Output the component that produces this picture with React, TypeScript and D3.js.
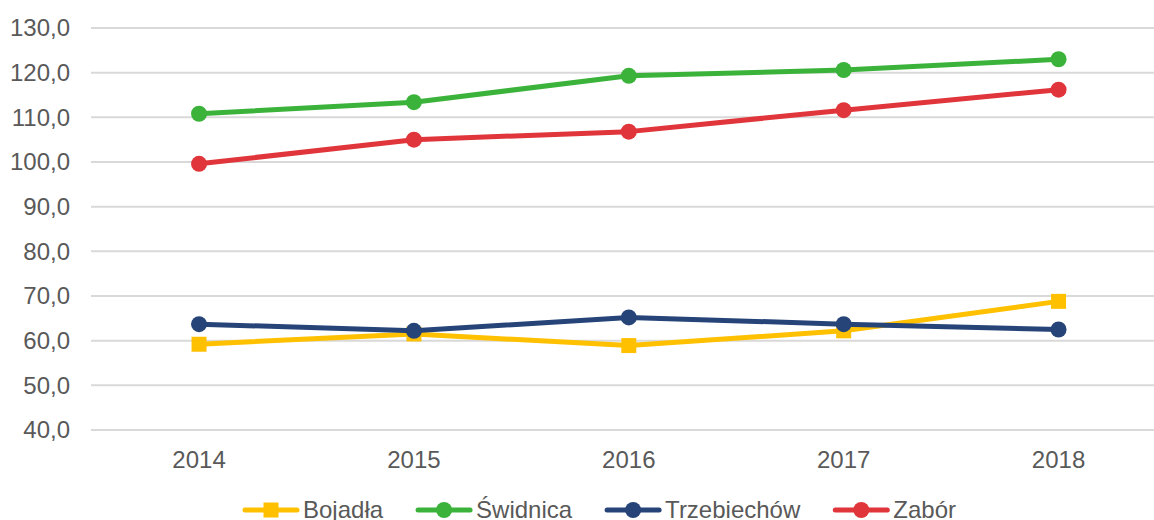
import * as d3 from "d3";
import React, { useEffect, useRef } from "react";

const years = ["2014", "2015", "2016", "2017", "2018"];
const bojadla = [59.2, 61.5, 58.9, 62.2, 68.8];
const swidnica = [110.8, 113.4, 119.3, 120.6, 123.0];
const trzebiechow = [63.7, 62.2, 65.2, 63.7, 62.5];
const zabor = [99.6, 105.0, 106.8, 111.6, 116.2];
const yTicks = [40, 50, 60, 70, 80, 90, 100, 110, 120, 130];

const series = [
  { name: "Bojadła", values: bojadla, color: "#FFC000", marker: "square" },
  { name: "Świdnica", values: swidnica, color: "#3BB33B", marker: "circle" },
  { name: "Trzebiechów", values: trzebiechow, color: "#264478", marker: "circle" },
  { name: "Zabór", values: zabor, color: "#E0353A", marker: "circle" },
];

const WIDTH = 1154;
const HEIGHT = 520;
const FONT = "'Liberation Sans', Arial, sans-serif";
const FS = 24;

function LineChart() {
  const svgRef = useRef<SVGSVGElement>(null);

  useEffect(() => {
    const svg = d3.select(svgRef.current);
    svg.selectAll("*").remove();

    const x = d3.scaleBand().domain(years).range([91.6, 1166]);
    const y = d3.scaleLinear().domain([40, 130]).range([430, 28]);
    const cx = (d: string) => (x(d) as number) + x.bandwidth() / 2;

    // gridlines
    svg
      .append("g")
      .selectAll("line")
      .data(yTicks)
      .join("line")
      .attr("x1", 91)
      .attr("x2", 1166)
      .attr("y1", (d) => y(d))
      .attr("y2", (d) => y(d))
      .attr("stroke", "#D9D9D9")
      .attr("stroke-width", 2);

    // y labels
    svg
      .append("g")
      .selectAll("text")
      .data(yTicks)
      .join("text")
      .attr("x", 70)
      .attr("y", (d) => y(d))
      .attr("dy", "0.35em")
      .attr("text-anchor", "end")
      .attr("font-family", FONT)
      .attr("font-size", FS)
      .attr("fill", "#595959")
      .text((d) => d.toFixed(1).replace(".", ","));

    // x labels
    svg
      .append("g")
      .selectAll("text")
      .data(years)
      .join("text")
      .attr("x", cx)
      .attr("y", 460)
      .attr("dy", "0.35em")
      .attr("text-anchor", "middle")
      .attr("font-family", FONT)
      .attr("font-size", FS)
      .attr("fill", "#595959")
      .text((d) => d);

    const line = d3
      .line<number>()
      .x((_, i) => cx(years[i]))
      .y((d) => y(d));

    series.forEach((s) => {
      const g = svg.append("g");
      g.append("path")
        .attr("d", line(s.values))
        .attr("fill", "none")
        .attr("stroke", s.color)
        .attr("stroke-width", 5)
        .attr("stroke-linecap", "round")
        .attr("stroke-linejoin", "round");
      if (s.marker === "square") {
        g.selectAll("rect")
          .data(s.values)
          .join("rect")
          .attr("x", (_, i) => cx(years[i]) - 7.5)
          .attr("y", (d) => y(d) - 7.5)
          .attr("width", 15)
          .attr("height", 15)
          .attr("fill", s.color);
      } else {
        g.selectAll("circle")
          .data(s.values)
          .join("circle")
          .attr("cx", (_, i) => cx(years[i]))
          .attr("cy", (d) => y(d))
          .attr("r", 8)
          .attr("fill", s.color);
      }
    });

    // legend
    const legend = svg.append("g");
    let lx = 243;
    const ly = 510;
    series.forEach((s) => {
      const item = legend.append("g");
      item
        .append("line")
        .attr("x1", lx + 2)
        .attr("x2", lx + 54)
        .attr("y1", ly)
        .attr("y2", ly)
        .attr("stroke", s.color)
        .attr("stroke-width", 5)
        .attr("stroke-linecap", "round");
      if (s.marker === "square") {
        item
          .append("rect")
          .attr("x", lx + 28 - 7.5)
          .attr("y", ly - 7.5)
          .attr("width", 15)
          .attr("height", 15)
          .attr("fill", s.color);
      } else {
        item
          .append("circle")
          .attr("cx", lx + 28)
          .attr("cy", ly)
          .attr("r", 8)
          .attr("fill", s.color);
      }
      const t = item
        .append("text")
        .attr("x", lx + 60)
        .attr("y", ly)
        .attr("dy", "0.35em")
        .attr("font-family", FONT)
        .attr("font-size", FS)
        .attr("fill", "#595959")
        .text(s.name);
      const w = (t.node() as SVGTextElement).getComputedTextLength();
      lx = lx + 60 + w + 33;
    });
  }, []);

  return (
    <svg
      ref={svgRef}
      width={WIDTH}
      height={HEIGHT}
      style={{ position: "absolute", left: 0, top: 0, background: "#fff" }}
    ></svg>
  );
}

export default function App() {
  return <LineChart />;
}
